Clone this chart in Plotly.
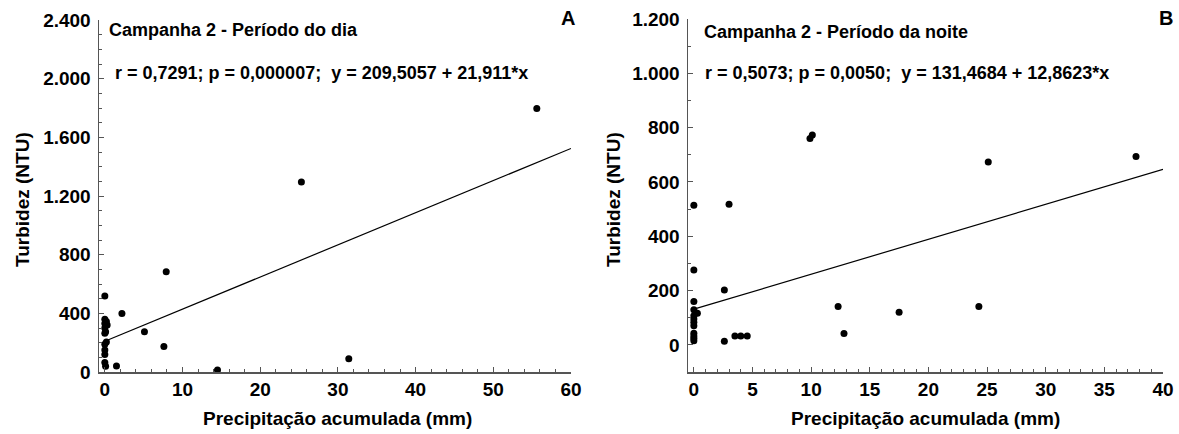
import plotly.graph_objects as go

W, H = 1179, 434

# ---------------- data ----------------
day_precip = [0, 2.2, 0, 0.2, 0, 0.3, 0, 0.1, 0, 0.2, 0, 0, 0, 0, 0.1, 1.5, 5.1, 7.6, 7.9, 14.5, 25.3, 31.4, 55.6]
day_turb = [518, 399, 360, 345, 330, 320, 300, 275, 265, 205, 190, 150, 120, 65, 40, 41, 275, 174, 683, 14, 1295, 91, 1797]

night_precip = [0, 3.0, 0, 2.6, 0, 0, 0.3, 0, 0, 0, 0, 0, 0, 0, 0, 2.6, 3.5, 4.0, 4.55,
                9.9, 10.1, 12.3, 12.8, 17.5, 24.3, 25.1, 37.7]
night_turb = [514, 518, 276, 202, 160, 129, 116, 107, 95, 83, 70, 43, 33, 24, 15, 13, 33, 33, 33,
              760, 773, 141, 42, 120, 141, 673, 694]

day_fit = (209.5057, 21.911)
night_fit = (131.4684, 12.8623)

day_xticks = [0, 10, 20, 30, 40, 50, 60]
day_yticks = [0, 400, 800, 1200, 1600, 2000, 2400]
day_yticklabels = ["0", "400", "800", "1.200", "1.600", "2.000", "2.400"]
night_xticks = [0, 5, 10, 15, 20, 25, 30, 35, 40]
night_yticks = [0, 200, 400, 600, 800, 1000, 1200]
night_yticklabels = ["0", "200", "400", "600", "800", "1.000", "1.200"]

day_title = "Campanha 2 - Período do dia"
day_stats = "r = 0,7291; p = 0,000007;  y = 209,5057 + 21,911*x"
night_title = "Campanha 2 - Período da noite"
night_stats = "r = 0,5073; p = 0,0050;  y = 131,4684 + 12,8623*x"
x_title = "Precipitação acumulada (mm)"
y_title = "Turbidez (NTU)"

# ---------------- layout helpers ----------------
def px_x(p):
    return p / W

def px_y(p):
    return 1 - p / H

FONT = "Liberation Sans"
AXC = "#555555"

fig = go.Figure()

day_xr = [-0.75, 60]
night_xr = [-0.5, 40]

fig.add_trace(go.Scatter(x=day_precip, y=day_turb, mode="markers",
                         marker=dict(color="black", size=7), xaxis="x", yaxis="y",
                         showlegend=False))
fig.add_trace(go.Scatter(x=[0, day_xr[1]],
                         y=[day_fit[0], day_fit[0] + day_fit[1] * day_xr[1]],
                         mode="lines", line=dict(color="black", width=1.2),
                         xaxis="x", yaxis="y", showlegend=False))
fig.add_trace(go.Scatter(x=night_precip, y=night_turb, mode="markers",
                         marker=dict(color="black", size=7), xaxis="x2", yaxis="y2",
                         showlegend=False))
fig.add_trace(go.Scatter(x=[0, night_xr[1]],
                         y=[night_fit[0], night_fit[0] + night_fit[1] * night_xr[1]],
                         mode="lines", line=dict(color="black", width=1.2),
                         xaxis="x2", yaxis="y2", showlegend=False))

tickfont = dict(family=FONT, size=19, color="black", weight="bold")

def xaxis(dom, rng, ticks, minor, anchor):
    return dict(domain=dom, range=rng, anchor=anchor, tickvals=ticks,
                ticktext=[str(t) for t in ticks], ticks="inside", ticklen=5,
                tickcolor=AXC, tickwidth=1, showline=True, linecolor=AXC, linewidth=1.5,
                showgrid=False, zeroline=False, tickfont=tickfont,
                minor=dict(dtick=minor, ticks="inside", ticklen=3, tickcolor=AXC, showgrid=False),
                automargin=False, fixedrange=True)

def yaxis(dom, rng, ticks, labels, minor, anchor):
    return dict(domain=dom, range=rng, anchor=anchor, tickvals=ticks,
                ticktext=labels, ticks="inside", ticklen=5,
                tickcolor=AXC, tickwidth=1, showline=True, linecolor=AXC, linewidth=1.5,
                showgrid=False, zeroline=False, tickfont=tickfont, ticklabelstandoff=3,
                minor=dict(dtick=minor, ticks="inside", ticklen=3, tickcolor=AXC, showgrid=False),
                automargin=False, fixedrange=True)

L0, L1 = 99, 571
R0, R1 = 688, 1163
xa = xaxis([px_x(L0), px_x(L1)], day_xr, day_xticks, 2, "y")
ya = yaxis([px_y(372), px_y(20)], [0, 2400], day_yticks, day_yticklabels, 100, "x")
xb = xaxis([px_x(R0), px_x(R1)], night_xr, night_xticks, 1, "y2")
yb = yaxis([px_y(372), px_y(19)], [-100, 1200], night_yticks, night_yticklabels, 100, "x2")

fig.update_layout(
    width=W, height=H, margin=dict(l=0, r=0, t=0, b=0),
    paper_bgcolor="white", plot_bgcolor="white",
    xaxis=xa, yaxis=ya, xaxis2=xb, yaxis2=yb,
    font=dict(family=FONT, color="black"),
)

def ann(text, x, y, size, xanchor="left", angle=0):
    fig.add_annotation(text="<b>" + text + "</b>", x=px_x(x), y=px_y(y), xref="paper", yref="paper",
                       xanchor=xanchor, yanchor="middle", showarrow=False, borderpad=0,
                       textangle=angle, font=dict(family=FONT, size=size, color="black"))

ann(day_title, 108, 30, 18)
ann(day_stats, 114, 73, 18)
ann(night_title, 703, 32, 18)
ann(night_stats, 704, 73, 18)
ann(x_title, (L0 + L1) / 2 + 2, 418, 19, "center")
ann(x_title, (R0 + R1) / 2, 418, 19, "center")
ann(y_title, 22, 200, 19, "center", -90)
ann(y_title, 613, 200, 19, "center", -90)
ann("A", 568, 18, 20, "center")
ann("B", 1166, 18, 20, "center")

fig.write_html("out.html", config={"displayModeBar": False, "staticPlot": True},
               post_script="document.body.style.margin='0';document.body.style.overflow='hidden';")
